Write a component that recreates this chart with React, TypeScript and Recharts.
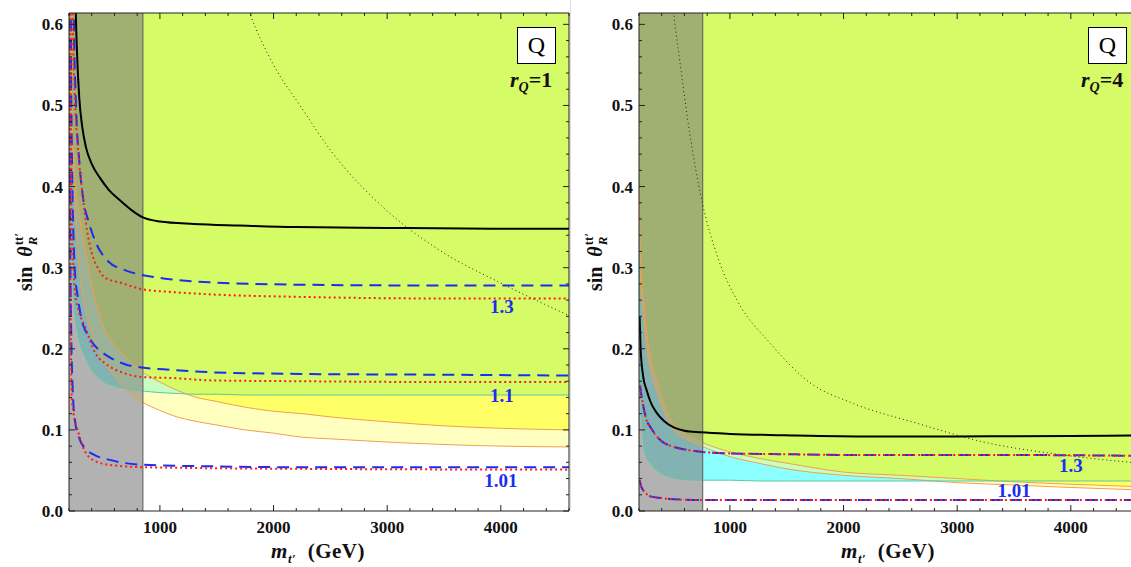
import { ComposedChart, Area, Line, XAxis, YAxis, ReferenceDot } from 'recharts';

const TOP = 0.614;
const serif = '"Liberation Serif", "Times New Roman", serif';
const BLUE = '#1c2cf0';
const RED = '#ff1a1a';
const ORANGE = '#f2a04a';
const TEAL = '#5cc8a8';

// axis ticks
const xTicks = [200, 400, 600, 800, 1000, 1200, 1400, 1600, 1800, 2000, 2200, 2400, 2600, 2800, 3000, 3200, 3400, 3600, 3800, 4000, 4200, 4400, 4600];
const xMajor = [1000, 2000, 3000, 4000];
const yTicks = [0, 0.02, 0.04, 0.06, 0.08, 0.1, 0.12, 0.14, 0.16, 0.18, 0.2, 0.22, 0.24, 0.26, 0.28, 0.3, 0.32, 0.34, 0.36, 0.38, 0.4, 0.42, 0.44, 0.46, 0.48, 0.5, 0.52, 0.54, 0.56, 0.58, 0.6];

// ---- left panel (r_Q = 1) ----
const gridL = [200, 220, 240, 260, 280, 300, 350, 400, 450, 500, 600, 700, 850, 1000, 1150, 1300, 1500, 1750, 2000, 2250, 2500, 3000, 3500, 4000, 4600];
const upperL = [0.75, 0.52, 0.44, 0.4, 0.375, 0.355, 0.315, 0.277, 0.25, 0.228, 0.205, 0.189, 0.171, 0.159, 0.149, 0.141, 0.135, 0.128, 0.123, 0.12, 0.116, 0.11, 0.105, 0.102, 0.1];
const lowerL = [0.7, 0.5, 0.42, 0.36, 0.32, 0.285, 0.245, 0.22, 0.2, 0.186, 0.166, 0.15, 0.134, 0.124, 0.116, 0.111, 0.106, 0.1, 0.096, 0.091, 0.089, 0.085, 0.082, 0.08, 0.079];
const cyanL = [0.7, 0.33, 0.265, 0.235, 0.218, 0.206, 0.188, 0.174, 0.166, 0.16, 0.154, 0.151, 0.148, 0.146, 0.145, 0.144, 0.144, 0.143, 0.143, 0.143, 0.143, 0.143, 0.143, 0.143, 0.143];

type Pt = [number, number];
const blackL: Pt[] = [[250, 0.7], [260, 0.613], [272, 0.56], [290, 0.51], [315, 0.475], [350, 0.448], [400, 0.428], [471, 0.411], [550, 0.396], [648, 0.383], [750, 0.371], [850, 0.362], [1000, 0.357], [1300, 0.354], [1700, 0.352], [2200, 0.35], [3000, 0.349], [4000, 0.348], [4600, 0.348]];
const blue13L: Pt[] = [[235, 0.7], [244, 0.59], [260, 0.506], [295, 0.424], [330, 0.38], [370, 0.358], [427, 0.334], [551, 0.307], [692, 0.297], [841, 0.291], [1018, 0.287], [1432, 0.282], [2233, 0.279], [3500, 0.278], [4600, 0.278]];
const red13L: Pt[] = [[225, 0.7], [235, 0.59], [253, 0.506], [280, 0.445], [320, 0.39], [360, 0.345], [401, 0.318], [460, 0.298], [515, 0.288], [665, 0.281], [859, 0.273], [1106, 0.27], [1458, 0.267], [2233, 0.264], [3500, 0.262], [4600, 0.262]];
const blue11L: Pt[] = [[214, 0.7], [218, 0.55], [225, 0.45], [232, 0.38], [240, 0.334], [251, 0.297], [278, 0.263], [313, 0.235], [360, 0.218], [427, 0.204], [551, 0.19], [692, 0.181], [841, 0.177], [1106, 0.174], [1458, 0.171], [2233, 0.169], [3500, 0.168], [4600, 0.167]];
const red11L: Pt[] = [[210, 0.7], [214, 0.55], [220, 0.42], [225, 0.346], [240, 0.3], [254, 0.268], [290, 0.245], [342, 0.227], [430, 0.195], [518, 0.182], [665, 0.171], [859, 0.165], [1106, 0.164], [1458, 0.161], [2233, 0.16], [3500, 0.159], [4600, 0.159]];
const blue101L: Pt[] = [[203, 0.7], [206, 0.5], [210, 0.346], [219, 0.223], [233, 0.149], [254, 0.11], [295, 0.088], [350, 0.076], [410, 0.07], [559, 0.063], [850, 0.057], [1500, 0.055], [2233, 0.054], [4600, 0.054]];
const red101L: Pt[] = [[205, 0.7], [208, 0.45], [212, 0.3], [217, 0.2], [225, 0.14], [240, 0.12], [270, 0.103], [320, 0.08], [410, 0.063], [550, 0.057], [850, 0.054], [2233, 0.052], [4600, 0.051]];
const dottedL: Pt[] = [[1750, 0.63], [1793, 0.613], [2000, 0.55], [2233, 0.5], [2500, 0.445], [3000, 0.37], [3467, 0.321], [4000, 0.281], [4600, 0.241]];

// ---- right panel (r_Q = 4) ----
const gridR = [200, 210, 220, 240, 260, 300, 350, 400, 450, 500, 600, 700, 800, 1000, 1250, 1500, 2000, 2500, 3000, 3500, 4000, 4600];
const upperR = [0.4, 0.33, 0.29, 0.26, 0.23, 0.19, 0.163, 0.14, 0.12, 0.108, 0.095, 0.088, 0.082, 0.073, 0.065, 0.059, 0.048, 0.044, 0.04, 0.036, 0.033, 0.03];
const lowerR = [0.36, 0.3, 0.27, 0.24, 0.21, 0.175, 0.15, 0.13, 0.113, 0.1, 0.09, 0.083, 0.077, 0.067, 0.059, 0.052, 0.044, 0.04, 0.035, 0.032, 0.029, 0.026];
const cyanR = [0.35, 0.2, 0.13, 0.085, 0.068, 0.059, 0.051, 0.046, 0.043, 0.041, 0.039, 0.038, 0.038, 0.038, 0.037, 0.037, 0.037, 0.037, 0.037, 0.037, 0.037, 0.037];

const blackR: Pt[] = [[205, 0.24], [214, 0.2], [223, 0.182], [240, 0.163], [267, 0.149], [300, 0.135], [356, 0.121], [420, 0.111], [506, 0.103], [600, 0.099], [744, 0.097], [1000, 0.095], [1477, 0.0935], [2236, 0.092], [3000, 0.092], [4000, 0.0925], [4600, 0.093]];
const c13R: Pt[] = [[210, 0.155], [214, 0.15], [240, 0.128], [267, 0.112], [303, 0.103], [350, 0.093], [391, 0.087], [506, 0.079], [600, 0.076], [744, 0.073], [1000, 0.071], [1477, 0.07], [2236, 0.069], [3500, 0.069], [4600, 0.068]];
const c101R: Pt[] = [[206, 0.038], [220, 0.03], [240, 0.025], [267, 0.021], [300, 0.018], [400, 0.016], [470, 0.0148], [762, 0.0135], [2000, 0.0135], [4600, 0.0135]];
const dottedR: Pt[] = [[480, 0.65], [506, 0.613], [559, 0.555], [647, 0.465], [753, 0.383], [900, 0.31], [1062, 0.26], [1353, 0.207], [1706, 0.158], [2059, 0.134], [2650, 0.108], [3233, 0.085], [3940, 0.069], [4600, 0.059]];

const toLine = (pts: Pt[]) => pts.map(([m, v]) => ({ m, v }));
const toBand = (grid: number[], lo: number[]) => grid.map((m, i) => ({ m, band: [lo[i], TOP] }));
const maxOf = (a: number[], b: number[]) => a.map((v, i) => Math.max(v, b[i]));

const isMajorY = (v: number) => Math.abs(v * 10 - Math.round(v * 10)) < 1e-6;

function BottomTick({ x, y, payload }: any) {
  const major = xMajor.includes(payload.value);
  return (
    <g>
      <line x1={x} y1={y} x2={x} y2={y - (major ? 6 : 3)} stroke="#222" />
      {major && (
        <text x={x} y={y + 22} textAnchor="middle" fontFamily={serif} fontWeight={700} fontSize={17} fill="#111">
          {payload.value}
        </text>
      )}
    </g>
  );
}
function TopTick({ x, y, payload }: any) {
  const major = xMajor.includes(payload.value);
  return <line x1={x} y1={y} x2={x} y2={y + (major ? 6 : 3)} stroke="#222" />;
}
function LeftTick({ x, y, payload }: any) {
  const major = isMajorY(payload.value);
  return (
    <g>
      <line x1={x} y1={y} x2={x + (major ? 6 : 3)} y2={y} stroke="#222" />
      {major && (
        <text x={x - 6} y={y + 6} textAnchor="end" fontFamily={serif} fontWeight={700} fontSize={17} fill="#111">
          {payload.value.toFixed(1)}
        </text>
      )}
    </g>
  );
}
function RightTick({ x, y, payload }: any) {
  const major = isMajorY(payload.value);
  return <line x1={x} y1={y} x2={x - (major ? 6 : 3)} y2={y} stroke="#222" />;
}

interface PanelProps {
  grid: number[];
  upper: number[];
  lower: number[];
  cyan: number[];
  bandEnd: number;
  black: Pt[];
  blues: Pt[][];
  reds: Pt[][];
  dotted: Pt[];
  labels: { x: number; y: number; text: string }[];
}

function Panel({ grid, upper, lower, cyan, bandEnd, black, blues, reds, dotted, labels }: PanelProps) {
  const ax = { xAxisId: 'b', yAxisId: 'l' };
  const fill = (lo: number[], color: string, key: string) => (
    <Area key={key} {...ax} data={toBand(grid, lo)} dataKey="band" type="monotone" stroke="none" fill={color} fillOpacity={1} dot={false} activeDot={false} isAnimationActive={false} />
  );
  const line = (pts: Pt[], color: string, width: number, dash: string | undefined, key: string) => (
    <Line key={key} {...ax} data={toLine(pts)} dataKey="v" type="monotone" stroke={color} strokeWidth={width} strokeDasharray={dash} dot={false} activeDot={false} isAnimationActive={false} />
  );
  const gridLine = (vals: number[], color: string, key: string) =>
    line(grid.map((m, i) => [m, vals[i]] as Pt), color, 1, undefined, key);

  return (
    <ComposedChart width={580} height={567} margin={{ top: 12, right: 10, bottom: 0, left: 0 }}>
      {fill(lower, '#ffffc0', 'ly')}
      {fill(upper, '#ffff66', 'y')}
      {fill(cyan, '#8cffff', 'c')}
      {fill(maxOf(lower, cyan), '#c8ffc0', 'mint')}
      {fill(maxOf(upper, cyan), '#d5fb67', 'yg')}
      {gridLine(upper, ORANGE, 'oa')}
      {gridLine(lower, ORANGE, 'ob')}
      {gridLine(cyan, TEAL, 'tc')}
      <Area {...ax} data={[{ m: 200, band: [0, TOP] }, { m: bandEnd, band: [0, TOP] }]} dataKey="band" type="linear" stroke="none" fill="#7a7a7a" fillOpacity={0.58} dot={false} activeDot={false} isAnimationActive={false} />
      {line([[bandEnd, 0], [bandEnd, TOP]], '#6a6a6a', 1.2, undefined, 'edge')}
      {line(dotted, '#222', 1, '1 3', 'dot')}
      {line(black, '#000', 2, undefined, 'blk')}
      {blues.map((p, i) => line(p, BLUE, 2, '12 7', 'b' + i))}
      {reds.map((p, i) => line(p, RED, 2, '2 3', 'r' + i))}
      {labels.map((l) => (
        <ReferenceDot key={l.text} {...ax} x={l.x} y={l.y} r={1} fill="none" stroke="none"
          label={{ value: l.text, position: 'center', fill: BLUE, fontSize: 19, fontWeight: 700, fontFamily: serif }} />
      ))}
      <XAxis xAxisId="b" type="number" dataKey="m" domain={[200, 4600]} allowDataOverflow ticks={xTicks} interval={0}
        tick={<BottomTick />} tickLine={false} tickSize={0} tickMargin={0} height={56} axisLine={{ stroke: '#222' }} />
      <XAxis xAxisId="t" orientation="top" type="number" dataKey="m" domain={[200, 4600]} allowDataOverflow ticks={xTicks} interval={0}
        tick={<TopTick />} tickLine={false} tickSize={0} tickMargin={0} height={1} axisLine={{ stroke: '#222' }} />
      <YAxis yAxisId="l" type="number" domain={[0, TOP]} allowDataOverflow ticks={yTicks} interval={0}
        tick={<LeftTick />} tickLine={false} tickSize={0} tickMargin={0} width={69} axisLine={{ stroke: '#222' }} />
      <YAxis yAxisId="r" orientation="right" type="number" domain={[0, TOP]} allowDataOverflow ticks={yTicks} interval={0}
        tick={<RightTick />} tickLine={false} tickSize={0} tickMargin={0} width={1} axisLine={{ stroke: '#222' }} />
    </ComposedChart>
  );
}

const textBold: React.CSSProperties = { fontFamily: serif, fontWeight: 700, color: '#111', whiteSpace: 'nowrap' };

function XLabel({ cx }: { cx: number }) {
  return (
    <div style={{ ...textBold, position: 'absolute', left: cx - 100, width: 200, top: 539, textAlign: 'center', fontSize: 21, letterSpacing: 0.5 }}>
      <i>m</i><sub style={{ fontSize: 13 }}><i>t′</i></sub>&nbsp;&nbsp;(GeV)
    </div>
  );
}

function YLabel({ cx }: { cx: number }) {
  return (
    <div style={{ ...textBold, position: 'absolute', left: cx, top: 262, transform: 'translate(-50%, -50%) rotate(-90deg)', fontSize: 20, display: 'flex', alignItems: 'center' }}>
      <span>sin&nbsp;&nbsp;</span>
      <i>θ</i>
      <span style={{ display: 'inline-flex', flexDirection: 'column', fontSize: 13, lineHeight: 1.05, marginLeft: 1 }}>
        <span>tt′</span>
        <i>R</i>
      </span>
    </div>
  );
}

function Tag({ boxLeft, textLeft, value }: { boxLeft: number; textLeft: number; value: string }) {
  return (
    <>
      <div style={{ position: 'absolute', left: boxLeft, top: 27, width: 37, height: 35, border: '1px solid #000', background: '#fff', fontFamily: serif, fontSize: 24, textAlign: 'center', lineHeight: '35px' }}>
        Q
      </div>
      <div style={{ ...textBold, position: 'absolute', left: textLeft, top: 67, fontSize: 22 }}>
        <i>r</i><sub style={{ fontSize: 14 }}><i>Q</i></sub>={value}
      </div>
    </>
  );
}

export default function App() {
  return (
    <div style={{ position: 'absolute', left: 0, top: 0, width: 1131, height: 567, overflow: 'hidden', background: '#fff' }}>
      <div style={{ position: 'absolute', left: 0, top: 0 }}>
        <Panel grid={gridL} upper={upperL} lower={lowerL} cyan={cyanL} bandEnd={850}
          black={blackL} blues={[blue13L, blue11L, blue101L]} reds={[red13L, red11L, red101L]} dotted={dottedL}
          labels={[{ x: 4010, y: 0.253, text: '1.3' }, { x: 4010, y: 0.143, text: '1.1' }, { x: 4000, y: 0.038, text: '1.01' }]} />
      </div>
      <div style={{ position: 'absolute', left: 570, top: 0, width: 1, height: 510, background: '#dddddd' }} />
      <div style={{ position: 'absolute', left: 570, top: 0 }}>
        <Panel grid={gridR} upper={upperR} lower={lowerR} cyan={cyanR} bandEnd={760}
          black={blackR} blues={[c13R, c101R]} reds={[c13R, c101R]} dotted={dottedR}
          labels={[{ x: 4000, y: 0.057, text: '1.3' }, { x: 3500, y: 0.026, text: '1.01' }]} />
      </div>
      <XLabel cx={318} />
      <XLabel cx={888} />
      <YLabel cx={26} />
      <YLabel cx={596} />
      <Tag boxLeft={517} textLeft={510} value="1" />
      <Tag boxLeft={1088} textLeft={1081} value="4" />
    </div>
  );
}
